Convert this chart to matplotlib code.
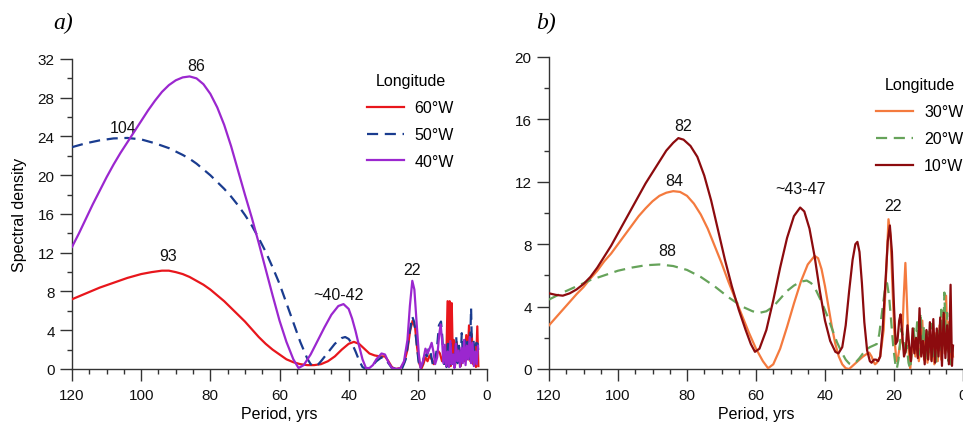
import matplotlib
matplotlib.use("Agg")
import matplotlib.pyplot as plt
from matplotlib.ticker import MultipleLocator

# ---- panel a: 60W, 50W, 40W ----
per_60w = [120, 116, 112, 108, 104, 100, 97, 94, 92, 90, 88, 86, 84, 82, 80, 78, 76, 74, 72, 70,
           68, 66, 64, 62, 60, 58, 56, 54, 52, 50, 48, 46, 44, 42, 40, 38.5, 37, 35.5, 34, 32.5,
           31, 29.5, 28.5, 27.5, 26.5, 25, 24, 23, 22.2, 21.5, 20.8, 20.2, 19.6, 19.0, 18.4, 17.8,
           17.2, 16.6, 16, 15.4, 14.8, 14.2, 13.6, 13, 12.4, 11.8, 11.4, 11.1, 10.8, 10.5, 10.2,
           9.9, 9.6, 9.2, 8.8, 8.4, 8, 7.6, 7.2, 6.8, 6.4, 6, 5.6, 5.2, 4.8, 4.4, 4, 3.6, 3.2,
           2.8, 2.5]
val_60w = [7.2, 7.8, 8.4, 8.9, 9.4, 9.8, 10.0, 10.15, 10.15, 10.0, 9.8, 9.5, 9.1, 8.7, 8.2, 7.6,
           7.0, 6.3, 5.6, 4.9, 4.1, 3.3, 2.6, 2.0, 1.5, 1.0, 0.7, 0.5, 0.4, 0.4, 0.5, 0.8, 1.3,
           2.0, 2.6, 2.8, 2.6, 2.1, 1.6, 1.4, 1.3, 1.3, 0.8, 0.2, 0.0, 0.1, 0.6, 2.0, 4.0, 5.0,
           4.3, 2.2, 0.6, 0.0, 0.5, 1.2, 0.8, 1.4, 1.0, 0.5, 1.3, 1.9, 1.6, 0.8, 1.2, 0.4, 7.0,
           1.0, 7.0, 0.3, 6.8, 1.5, 3.0, 0.4, 2.8, 1.0, 2.0, 0.3, 1.6, 2.6, 0.8, 3.5, 1.0, 4.5,
           0.8, 3.6, 0.5, 2.5, 0.2, 4.4, 0.3]

per_50w = [120, 116, 112, 108, 104, 100, 96, 92, 88, 86, 84, 82, 80, 78, 76, 74, 72, 70, 68, 66,
           64, 62, 60, 58, 56, 54, 52, 51, 50, 49, 48, 46, 44, 42, 41, 40, 39, 38, 37, 36, 35, 34,
           33, 32, 30.5, 29.5, 28.5, 27.5, 26, 24.5, 23.5, 22.5, 21.6, 21, 20.4, 19.8, 19.3,
           18.6, 18, 17.4, 16.8, 16.2, 15.6, 15, 14.4, 13.9, 13.3, 12.9, 12.5, 12.1, 11.7, 11.3,
           10.9, 10.5, 10.1, 9.7, 9.3, 8.9, 8.5, 8.1, 7.7, 7.3, 6.9, 6.5, 6.1, 5.7, 5.3, 4.9,
           4.6, 4.3, 3.9, 3.5, 3.1, 2.7, 2.4]
val_50w = [22.9, 23.3, 23.6, 23.8, 23.85, 23.7, 23.3, 22.8, 22.1, 21.7, 21.2, 20.6, 20.0, 19.3,
           18.6, 17.8, 16.9, 15.9, 14.8, 13.5, 12.1, 10.5, 8.8, 6.8, 4.8, 2.8, 1.1, 0.5, 0.3,
           0.4, 0.8, 1.7, 2.6, 3.2, 3.3, 3.1, 2.6, 1.8, 0.9, 0.2, 0.0, 0.1, 0.4, 0.8, 1.2, 1.1,
           0.6, 0.1, 0.0, 0.1, 1.0, 3.5, 5.4, 4.8, 2.8, 0.8, 0.0, 0.6, 1.7, 1.3, 2.2, 1.5, 0.3,
           0.8, 2.4, 4.5, 4.9, 3.2, 0.2, 1.5, 0.2, 3.0, 0.4, 2.6, 0.1, 1.8, 0.5, 3.3, 0.6, 2.4,
           0.2, 3.7, 0.9, 3.0, 1.2, 2.8, 1.0, 2.2, 6.3, 1.0, 3.0, 0.8, 2.7, 2.6, 1.5]

per_40w = [120, 118, 116, 114, 112, 110, 108, 106, 104, 102, 100, 98, 96, 94, 92, 90, 88, 86, 84,
           82, 80, 78, 76, 74, 72, 70, 68, 66, 64, 62, 60, 58, 56, 54.5, 53, 51, 49, 47, 45, 43,
           41.5, 40, 39, 38, 37, 36, 35, 34, 33, 32, 30.5, 29.5, 28.5, 27.5, 26, 25, 24, 23,
           22.3, 21.6, 21, 20.3, 19.7, 19.2, 18.5, 17.8, 17.2, 16.5, 16, 15.5, 15, 14.4, 13.8,
           13.4, 13, 12.6, 12.2, 11.8, 11.4, 11, 10.6, 10.2, 9.8, 9.4, 9, 8.6, 8.2, 7.8, 7.4, 7,
           6.6, 6.2, 5.8, 5.4, 5.0, 4.6, 4.2, 3.8, 3.4, 3.0, 2.6]
val_40w = [12.6, 14.0, 15.5, 17.0, 18.4, 19.8, 21.1, 22.3, 23.4, 24.5, 25.6, 26.7, 27.7, 28.6,
           29.3, 29.8, 30.1, 30.2, 30.0, 29.4, 28.4, 27.0, 25.2, 23.0, 20.5, 18.0, 15.6, 13.0,
           10.3, 7.6, 5.0, 2.8, 1.0, 0.1, 0.4, 1.5, 2.9, 4.3, 5.6, 6.5, 6.7, 6.2, 5.2, 3.9, 2.4,
           1.0, 0.1, 0.1, 0.4, 1.0, 1.6, 1.5, 0.7, 0.1, 0.0, 0.1, 0.8, 3.0, 6.5, 9.1, 8.2, 4.5,
           1.5, 0.1, 0.8, 2.1, 1.6, 2.2, 2.7, 1.8, 0.5, 1.2, 3.6, 4.6, 3.0, 0.6, 2.5, 0.3, 1.8,
           0.2, 2.9, 0.5, 1.5, 0.1, 2.6, 0.8, 1.9, 0.2, 2.2, 0.6, 3.0, 0.4, 2.4, 1.0, 3.3, 0.6,
           2.7, 0.3, 1.8, 0.5, 2.4]

# ---- panel b: 30W, 20W, 10W ----
per_30w = [120, 118, 116, 114, 112, 110, 108, 106, 104, 102, 100, 98, 96, 94, 92, 90, 88, 86, 84,
           82, 80, 78, 76, 74, 72, 70, 68, 66, 64, 62, 60, 58, 56.5, 55, 53, 51, 49, 47, 45, 43,
           42, 41, 40, 39, 38, 37, 36, 35, 34, 33, 32, 31, 30, 29, 28, 27.2, 26.5, 26, 25.5, 25,
           24, 23, 22.3, 21.6, 21, 20.4, 19.8, 19.3, 18.8, 18.2, 17.6, 17.2, 16.7, 16.2, 15.7,
           15.3, 14.8, 14.3, 13.8, 13.3, 12.8, 12.3, 11.8, 11.3, 10.8, 10.3, 9.8, 9.3, 8.8, 8.3,
           7.8, 7.3, 6.8, 6.3, 5.8, 5.3, 4.9, 4.5, 4.1, 3.7, 3.3, 2.9]
val_30w = [2.8, 3.3, 3.8, 4.3, 4.8, 5.25, 5.8, 6.3, 6.9, 7.4, 8.0, 8.6, 9.2, 9.8, 10.3, 10.75,
           11.1, 11.3, 11.4, 11.35, 11.1, 10.6, 9.9, 9.0, 7.9, 6.8, 5.6, 4.5, 3.4, 2.3, 1.3, 0.5,
           0.05, 0.3, 1.3, 2.7, 4.2, 5.6, 6.7, 7.25, 7.1, 6.4, 5.3, 4.0, 2.7, 1.6, 0.8, 0.3,
           0.05, 0.0, 0.2, 0.4, 0.6, 0.8, 0.95, 1.05, 0.8, 0.5, 0.3, 0.4, 0.8, 2.5, 6.0, 9.6,
           8.5, 5.0, 1.8, 0.5, 0.8, 1.6, 2.0, 4.5, 6.8, 4.0, 1.0, 0.0, 1.2, 2.2, 0.8, 1.8, 0.5,
           1.5, 3.1, 0.6, 2.2, 0.4, 2.0, 0.6, 1.5, 0.3, 2.3, 0.5, 2.8, 0.6, 3.5, 1.0, 4.7, 1.2,
           3.0, 0.5, 1.5, 0.8]

per_20w = [120, 116, 112, 108, 104, 100, 96, 92, 88, 84, 80, 76, 72, 68, 64, 61, 59, 57, 55, 53,
           51, 49, 47, 45.3, 44, 42.5, 41, 39.5, 38, 36.5, 35, 34, 33, 32, 31, 30, 29, 28, 27,
           26, 25, 24.3, 23.5, 22.5, 22, 21.4, 20.8, 20.2, 19.6, 19.2, 18.7, 18.2, 17.8, 17.3,
           16.8, 16.3, 15.8, 15.3, 14.8, 14.3, 13.8, 13.3, 12.8, 12.3, 11.8, 11.3, 10.8, 10.3,
           9.8, 9.3, 8.8, 8.3, 7.8, 7.3, 6.8, 6.3, 5.8, 5.4, 5.0, 4.6, 4.2, 3.8, 3.4, 3.0]
val_20w = [4.45, 4.9, 5.3, 5.7, 6.0, 6.3, 6.5, 6.65, 6.7, 6.6, 6.35, 5.9, 5.3, 4.6, 4.0, 3.7,
           3.6, 3.7, 4.0, 4.5, 5.0, 5.35, 5.6, 5.67, 5.5, 5.0, 4.3, 3.5, 2.6, 1.7, 1.0, 0.6,
           0.35, 0.3, 0.45, 0.7, 1.0, 1.25, 1.4, 1.5, 1.6, 2.2, 3.6, 5.3, 5.5, 4.6, 3.0, 1.4,
           0.3, 0.0, 0.6, 1.8, 2.6, 2.0, 0.8, 1.5, 0.4, 0.0, 1.2, 2.6, 1.4, 3.0, 0.9, 3.6, 1.5,
           2.8, 0.5, 2.4, 1.0, 2.9, 0.8, 2.2, 0.4, 2.6, 1.2, 3.8, 1.5, 4.9, 2.0, 3.6, 0.5, 2.2,
           0.3, 1.4]

per_10w = [120, 118, 116, 114, 112, 110, 108, 106, 104, 102, 100, 98, 96, 94, 92, 90, 88, 86, 84,
           82.5, 81, 79, 77, 75, 73, 71, 69, 67, 65, 63, 61.5, 60.3, 59, 57, 55, 53, 51, 49,
           47.2, 46, 44.5, 43, 41.5, 40, 38.5, 37, 36.1, 35, 34, 33, 32, 31.2, 30.6, 30, 29.3,
           28.6, 27.8, 27, 26.5, 25.8, 25.2, 24.6, 24, 23.3, 22.5, 21.8, 21.2, 20.6, 20, 19.5,
           19, 18.5, 18.1, 17.6, 17.1, 16.6, 16.1, 15.6, 15.1, 14.6, 14.1, 13.6, 13.1, 12.6,
           12.1, 11.6, 11.1, 10.6, 10.1, 9.6, 9.1, 8.6, 8.1, 7.6, 7.1, 6.6, 6.1, 5.6, 5.1, 4.6,
           4.1, 3.6, 3.2, 2.9]
val_10w = [4.85, 4.75, 4.7, 4.85, 5.1, 5.45, 5.9, 6.5, 7.2, 7.9, 8.7, 9.5, 10.3, 11.1, 11.9,
           12.6, 13.3, 14.0, 14.5, 14.8, 14.7, 14.3, 13.6, 12.4, 10.8, 8.9, 7.0, 5.3, 3.8, 2.5,
           1.6, 1.1, 1.3, 2.5, 4.4, 6.5, 8.4, 9.8, 10.35, 10.1, 9.0, 7.2, 5.0, 3.1, 1.8, 1.1,
           1.0, 1.4, 2.8, 5.0, 7.0, 8.0, 8.15, 7.5, 5.5, 3.0, 1.2, 0.5, 0.4, 0.6, 0.6, 0.5, 0.8,
           2.5, 5.5, 8.2, 9.2, 7.5, 4.0, 1.6, 1.8, 3.1, 3.5, 2.2, 0.8, 1.2, 2.8, 1.5, 0.5, 2.6,
           1.0, 2.0, 0.7, 3.9, 0.8, 1.8, 0.3, 2.5, 0.6, 3.0, 0.5, 3.2, 0.4, 2.6, 0.8, 3.3, 0.2,
           3.6, 0.7, 2.8, 0.3, 5.4, 0.2, 1.5]

ink = '#333333'
plt.rcParams['font.family'] = ['Liberation Sans', 'DejaVu Sans']

fig = plt.figure(figsize=(9.63, 4.27), dpi=100)
ax1 = fig.add_axes([0.0748, 0.1335, 0.4309, 0.726])
ax2 = fig.add_axes([0.5701, 0.1335, 0.4299, 0.7307])


def style(ax, ymax):
    ax.set_xlim(120, 0)
    ax.set_ylim(0, ymax)
    for s in ['top', 'right']:
        ax.spines[s].set_visible(False)
    for s in ['left', 'bottom']:
        ax.spines[s].set_color(ink)
        ax.spines[s].set_linewidth(1.0)
    ax.xaxis.set_major_locator(MultipleLocator(20))
    ax.xaxis.set_minor_locator(MultipleLocator(5))
    ax.yaxis.set_major_locator(MultipleLocator(4))
    ax.yaxis.set_minor_locator(MultipleLocator(2))
    ax.tick_params(which='major', direction='out', length=8.5, width=1.0, color=ink,
                   labelcolor='#111111', labelsize=11)
    ax.tick_params(which='minor', direction='out', length=3.5, width=1.0, color=ink)
    ax.tick_params(axis='x', pad=5)
    ax.tick_params(axis='y', pad=4)
    ax.set_xlabel('Period, yrs', fontsize=11.5, labelpad=3)


style(ax1, 32)
style(ax2, 20)

leg_kw = dict(loc='upper left', frameon=False, fontsize=11.5, title_fontsize=11.5,
              handlelength=2.3, handletextpad=0.7, labelspacing=0.75, borderaxespad=0)

# panel a
ax1.plot(per_60w, val_60w, color='#e8161c', lw=1.6, label='60°W', zorder=3)
ax1.plot(per_50w, val_50w, color='#1a3c8f', lw=1.6, ls=(0, (5, 3)), label='50°W', zorder=4)
ax1.plot(per_40w, val_40w, color='#9b27cf', lw=1.6, label='40°W', zorder=5)
ax1.set_ylabel('Spectral density', fontsize=11.5, labelpad=8)
ax1.legend(title='Longitude', bbox_to_anchor=(0.695, 0.975), **leg_kw)

notes_a = [('86', 84.0, 31.3), ('104', 105.2, 24.9), ('93', 92.2, 11.7),
           ('~40-42', 42.9, 7.7), ('22', 21.7, 10.3)]
for txt, x, y in notes_a:
    ax1.text(x, y, txt, ha='center', va='center', fontsize=11.5, color='#111111')

# panel b
ax2.plot(per_30w, val_30w, color='#f47a3e', lw=1.6, label='30°W', zorder=3)
ax2.plot(per_20w, val_20w, color='#66a35a', lw=1.6, ls=(0, (5, 3)), label='20°W', zorder=4)
ax2.plot(per_10w, val_10w, color='#8c0b0e', lw=1.6, label='10°W', zorder=5)
ax2.legend(title='Longitude', bbox_to_anchor=(0.775, 0.955), **leg_kw)

notes_b = [('82', 81.2, 15.6), ('84', 83.8, 12.1), ('~43-47', 47.2, 11.55),
           ('22', 20.3, 10.5), ('88', 85.8, 7.6)]
for txt, x, y in notes_b:
    ax2.text(x, y, txt, ha='center', va='center', fontsize=11.5, color='#111111')

fig.text(0.066, 0.945, 'a)', fontsize=17, style='italic', family='Liberation Serif',
         ha='center', va='center')
fig.text(0.567, 0.945, 'b)', fontsize=17, style='italic', family='Liberation Serif',
         ha='center', va='center')

fig.savefig('out.png', dpi=100)
